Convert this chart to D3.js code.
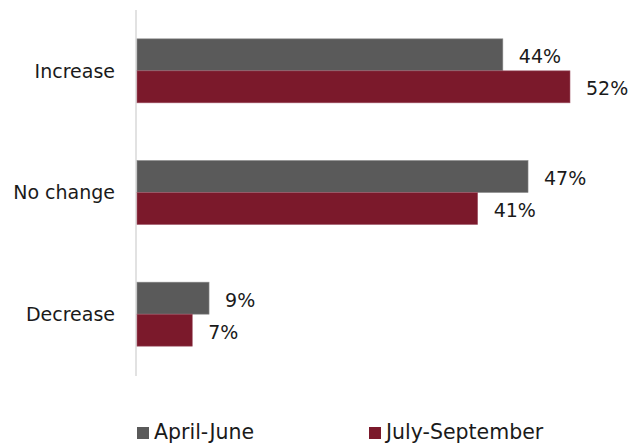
<!DOCTYPE html>
<html><head><meta charset="utf-8">
<script src="https://cdn.jsdelivr.net/npm/d3@7"></script>
<style>html,body{margin:0;padding:0;background:#fff;}svg{display:block;}</style>
</head><body>
<svg id="chart" width="637" height="446"></svg>
<script>
const categories = ["Increase", "No change", "Decrease"];
const seriesNames = ["April-June", "July-September"];
const aprilJune = [44, 47, 9];
const julySeptember = [52, 41, 7];
const colors = ["#5a5a5a", "#7b192b"];

const svg = d3.select("#chart");
const font = "'DejaVu Sans', sans-serif";
const x0 = 137;
const x = d3.scaleLinear().domain([0, 52]).range([133.5, 570]);
const y = d3.scaleBand().domain(categories).range([10, 375]).paddingInner(0.474).paddingOuter(0.237);
const ySub = d3.scaleBand().domain(seriesNames).range([0, y.bandwidth()]);

const series = [aprilJune, julySeptember];

// axis line
svg.append("line").attr("x1", 136).attr("x2", 136).attr("y1", 10).attr("y2", 376)
  .attr("stroke", "#d9d9d9").attr("stroke-width", 1.5);

series.forEach((vals, si) => {
  const g = svg.append("g");
  g.selectAll("rect").data(categories).join("rect")
    .attr("x", x0)
    .attr("y", (c) => y(c) + ySub(seriesNames[si]))
    .attr("width", (c, i) => x(vals[i]) - x0)
    .attr("height", ySub.bandwidth())
    .attr("fill", colors[si])
    .attr("stroke", si === 0 ? "#8a8a8a" : "#a0596a").attr("stroke-width", 0.6);
  g.selectAll("text").data(categories).join("text")
    .attr("x", (c, i) => x(vals[i]) + 16)
    .attr("y", (c) => y(c) + ySub(seriesNames[si]) + ySub.bandwidth() / 2 + 1.5)
    .attr("dy", "0.36em")
    .attr("font-family", font).attr("font-size", 19).attr("fill", "#1a1a1a")
    .text((c, i) => vals[i] + "%");
});

// category labels
svg.selectAll("text.cat").data(categories).join("text").attr("class", "cat")
  .attr("x", 115).attr("y", (c) => y(c) + y.bandwidth() / 2)
  .attr("dy", "0.36em").attr("text-anchor", "end")
  .attr("font-family", font).attr("font-size", 19).attr("fill", "#1a1a1a")
  .text((c) => c);

// legend
const legendX = [137, 369];
seriesNames.forEach((s, i) => {
  svg.append("rect").attr("x", legendX[i]).attr("y", 427).attr("width", 12).attr("height", 12)
    .attr("fill", colors[i]);
  svg.append("text").attr("x", legendX[i] + 17).attr("y", 439)
    .attr("font-family", font).attr("font-size", 20.5).attr("fill", "#1a1a1a").text(s);
});
</script>
</body></html>
